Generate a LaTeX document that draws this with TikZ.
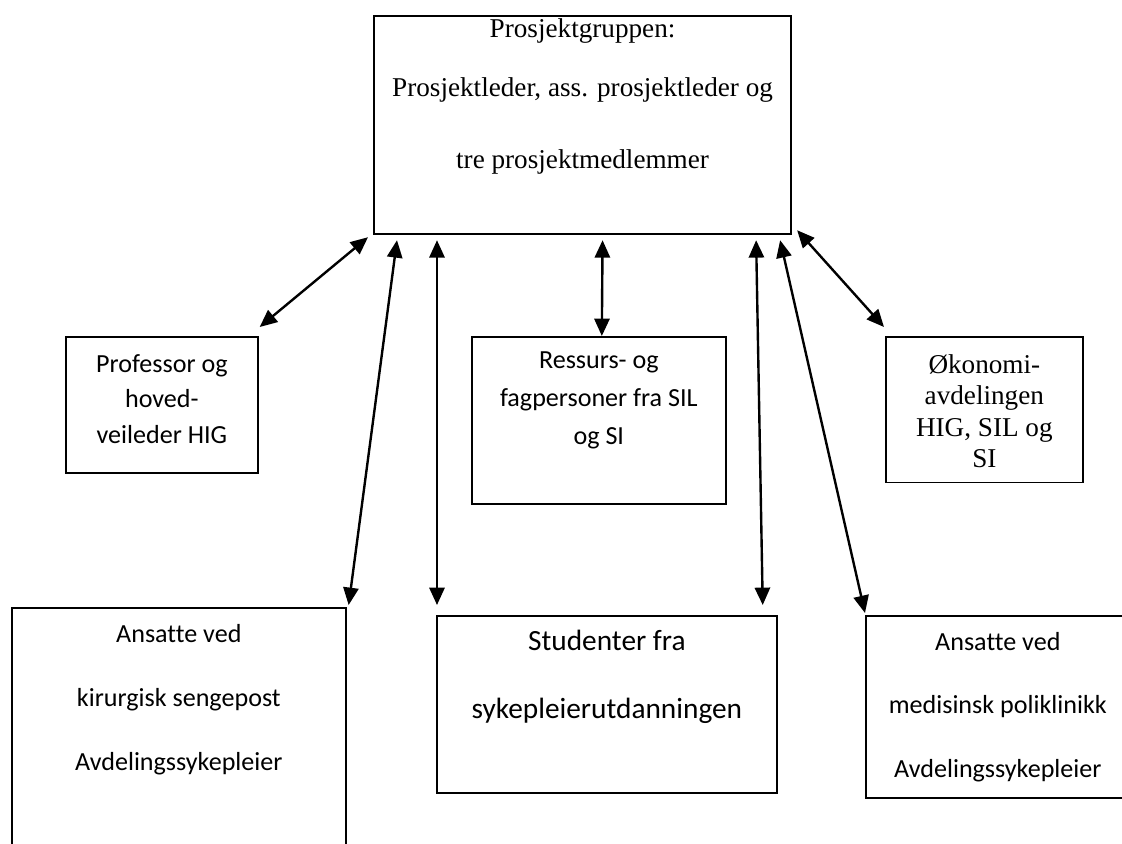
\documentclass[tikz,border=0pt]{standalone}
\usepackage{fontspec}
\setmainfont{Liberation Serif}
\newfontfamily\calfont[Ligatures=NoCommon]{Carlito}
\usetikzlibrary{arrows.meta,calc}
\begin{document}
\begin{tikzpicture}[x=0.46pt,y=-0.46pt,
    box/.style={draw,line width=0.8pt,inner sep=0pt,anchor=north west},
    link/.style={{Triangle[length=8pt,width=7pt]}-{Triangle[length=8pt,width=7pt]},line width=1.1pt}]
    \useasboundingbox (0,0) rectangle (1122,843);
    \clip (0,0) rectangle (1122,843);
    % boxes
    \node[box,line width=1pt] (grp) at (373,15) {\parbox[c][100.3pt][t]{191.8pt}{\vspace*{1pt}\centering\fontsize{12.5}{14.4}\selectfont
        Prosjektgruppen:\\[13pt] Prosjektleder, ass. prosjektleder og\\[18.5pt] tre prosjektmedlemmer}};
    \node[box] (prof) at (65,336) {\parbox[c][62.6pt][t]{88.3pt}{\vspace*{8pt}\centering\calfont\fontsize{12}{16.3}\selectfont
        Professor og\\ hoved-\\ veileder HIG}};
    \node[box] (res) at (471,336) {\parbox[c][76.8pt][t]{116.8pt}{\vspace*{7pt}\centering\calfont\fontsize{12}{17.3}\selectfont
        Ressurs- og\\ fagpersoner fra SIL\\ og SI}};
    \node[box] (oko) at (885,336) {\parbox[c][67pt][t]{90.6pt}{\vspace*{8pt}\centering\fontsize{12.5}{14.5}\selectfont
        Økonomi-\\ avdelingen\\ HIG, SIL og\\ SI}};
    \node[box] (kir) at (11,607) {\parbox[c][130pt][t]{153.6pt}{\vspace*{7.5pt}\centering\calfont\fontsize{12}{29.4}\selectfont
        Ansatte ved\\ kirurgisk sengepost\\ Avdelingssykepleier}};
    \node[box] (stud) at (436,615) {\parbox[c][81.4pt][t]{156.4pt}{\vspace*{6.5pt}\centering\calfont\fontsize{13.5}{31.3}\selectfont
        Studenter fra\\ sykepleierutdanningen}};
    \node[box] (med) at (865,615) {\parbox[c][83.7pt][t]{121.4pt}{\vspace*{7.5pt}\centering\calfont\fontsize{12}{29.2}\selectfont
        Ansatte ved\\ medisinsk poliklinikk\\ Avdelingssykepleier}};
    % arrows
    \draw[link] ($(prof.north east)+(1,-9)$) -- ($(grp.south west)+(-5,2)$);
    \draw[link] ($(kir.north east)+(2,-2)$) -- ($(grp.south west)+(24,5)$);
    \draw[link] ($(stud.north west)+(1,-10)$) -- ($(grp.south west)+(64,5)$);
    \draw[link] ($(res.north)+(3,0)$) -- ($(grp.south)+(20,5)$);
    \draw[link] ($(stud.north east)+(-15,-10)$) -- ($(grp.south east)+(-36,5)$);
    \draw[link] ($(med.north west)+(0,-2)$) -- ($(grp.south east)+(-12,5)$);
    \draw[link] ($(oko.north west)+(-1,-9)$) -- ($(grp.south east)+(5,-5)$);
\end{tikzpicture}
\end{document}
